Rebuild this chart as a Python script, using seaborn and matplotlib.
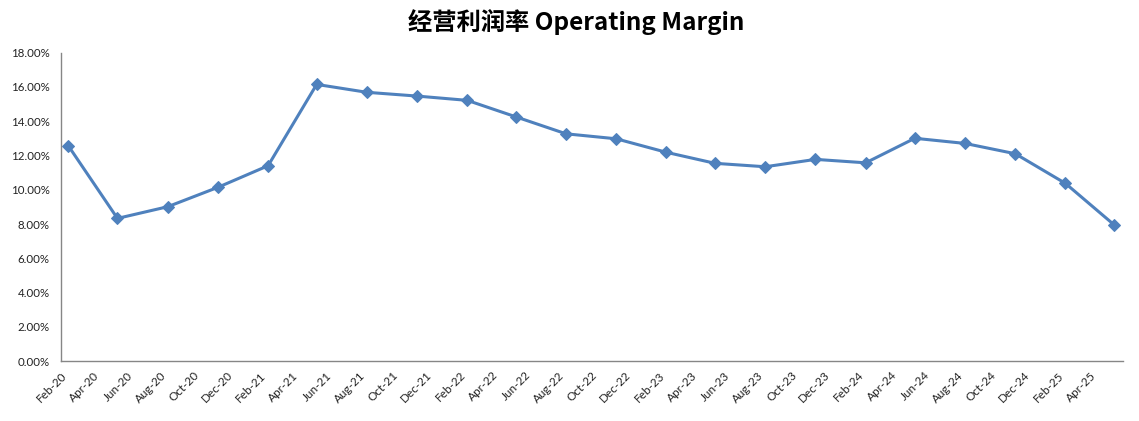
import pandas as pd
import numpy as np
import matplotlib
matplotlib.use("Agg")
import matplotlib.pyplot as plt
import matplotlib.dates as mdates
import matplotlib.ticker as mticker
import seaborn as sns

# ---- data ----
dates = ["2020-02-15", "2020-05-15", "2020-08-15", "2020-11-15",
         "2021-02-15", "2021-05-15", "2021-08-15", "2021-11-15",
         "2022-02-15", "2022-05-15", "2022-08-15", "2022-11-15",
         "2023-02-15", "2023-05-15", "2023-08-15", "2023-11-15",
         "2024-02-15", "2024-05-15", "2024-08-15", "2024-11-15",
         "2025-02-15", "2025-05-15"]
margin = [0.1256, 0.0833, 0.0901, 0.1014,
          0.1140, 0.1614, 0.1568, 0.1546,
          0.1521, 0.1425, 0.1326, 0.1297,
          0.1218, 0.1154, 0.1134, 0.1177,
          0.1157, 0.1300, 0.1270, 0.1210,
          0.1037, 0.0796]
title = "经营利润率 Operating Margin"
y_ticks = [0.00, 0.02, 0.04, 0.06, 0.08, 0.10, 0.12, 0.14, 0.16, 0.18]
x_start, x_end = "2020-02-01", "2025-06-01"

df = pd.DataFrame({"date": pd.to_datetime(dates), "margin": margin})

sns.set_theme(style="white")
plt.rcParams["font.family"] = ["Lato", "Noto Sans CJK SC", "DejaVu Sans"]

fig = plt.figure(figsize=(11.39, 4.21), dpi=100)
ax = fig.add_axes([60.7 / 1139, 1 - 361.3 / 421, (1123.3 - 60.7) / 1139, (361.3 - 52.5) / 421])

line_color = "#4F81BD"
sns.lineplot(data=df, x="date", y="margin", ax=ax, color=line_color,
             linewidth=2.2, marker="D", markersize=6.5,
             markeredgecolor=line_color, markerfacecolor=line_color)

ax.set_xlim(pd.Timestamp(x_start), pd.Timestamp(x_end))
ax.set_ylim(0, 0.18)
ax.set_yticks(y_ticks)
ax.yaxis.set_major_formatter(mticker.FuncFormatter(lambda v, p: f"{v*100:.2f}%"))

tick_dates = pd.date_range(x_start, x_end, freq="2MS")
ax.set_xticks(tick_dates)
labels = [d.strftime("%b-%y") for d in tick_dates]
labels[-1] = ""
ax.set_xticklabels(labels, rotation=45, ha="right", rotation_mode="anchor")

ax.set_xlabel("")
ax.set_ylabel("")
for s in ["top", "right"]:
    ax.spines[s].set_visible(False)
for s in ["left", "bottom"]:
    ax.spines[s].set_color("#868686")
    ax.spines[s].set_linewidth(1.0)
ax.tick_params(axis="both", which="major", direction="out", length=4,
               width=1.0, color="#868686", labelcolor="#222222")
ax.tick_params(axis="x", pad=2, labelsize=8.5)
ax.tick_params(axis="y", pad=4, labelsize=8.3)
ax.grid(False)

fig.text(0.506, 0.948, title, ha="center", va="center", fontsize=17.5,
         fontweight="bold", family=["Noto Sans CJK SC", "DejaVu Sans"], color="black")

fig.savefig("out.png", dpi=100, facecolor="white")
